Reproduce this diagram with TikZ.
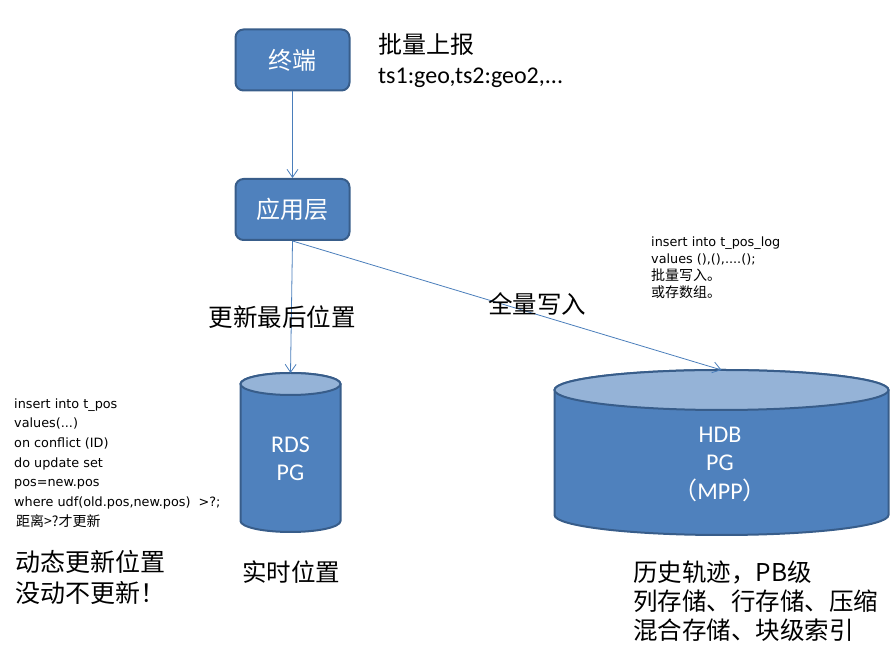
\documentclass[tikz,border=0pt]{standalone}
\usepackage{fontspec}
\setmainfont{Carlito}
\newfontfamily\cjk{Noto Sans CJK SC}
\newfontfamily\codefont{DejaVu Sans}
\usetikzlibrary{arrows.meta,positioning}
\definecolor{boxblue}{RGB}{79,129,189}
\definecolor{boxedge}{RGB}{56,93,138}
\definecolor{drumtop}{RGB}{149,179,215}
\definecolor{linkblue}{RGB}{74,126,187}
% database drum: name of top point, centre x, top y, bottom y, x radius, y radius
\newcommand{\dbdrum}[6]{%
  \filldraw[fill=boxblue, draw=boxedge, line width=2pt] (#2-#5,#3) -- (#2-#5,#4)
    arc[start angle=180, end angle=360, x radius=#5, y radius=#6] -- (#2+#5,#3)
    arc[start angle=0, end angle=180, x radius=#5, y radius=#6] -- cycle;
  \filldraw[fill=drumtop, draw=boxedge, line width=2pt] (#2,#3) ellipse [x radius=#5, y radius=#6];
  \coordinate (#1) at (#2,#3+#6);}

\begin{document}
\begin{tikzpicture}[x=1pt, y=1pt,
    unit/.style={rectangle, rounded corners=8pt, fill=boxblue, draw=boxedge, line width=2pt,
      minimum width=114pt, minimum height=61pt, text=white, font=\cjk\fontsize{24}{28}\selectfont},
    dbtext/.style={align=center, text=white, font=\fontsize{24}{28.5}\selectfont},
    flow/.style={draw=linkblue, line width=0.8pt, -{Straight Barb[length=8pt, width=11pt]}},
    note/.style={anchor=west, align=left, inner sep=0pt}]
  \useasboundingbox (0,0) rectangle (894,652);
  % terminal reports to the application layer
  \node[unit] (term) at (292.5,592) {终端};
  \node[unit] (app) at (292.5,442.5) {应用层};
  \draw[flow] (term) -- (app);
  \node[note, font=\fontsize{24}{30}\selectfont] (batch) at (378,592) {{\cjk 批量上报}\\ts1:geo,ts2:geo2,...};
  % the two databases
  \dbdrum{rdstop}{290.5}{268}{131}{50}{11}
  \dbdrum{hdbtop}{721.5}{262}{137}{167}{20}
  \node[dbtext] (rds) at (290.5,193) {RDS\\PG};
  \node[dbtext] (hdb) at (720,188) {HDB\\PG\\{\cjk （}MPP{\cjk ）}};
  \draw[flow] (app.south) -- (rdstop);
  \draw[flow] (app.south) -- (hdbtop);
  \node[font=\cjk\fontsize{24.5}{28}\selectfont] (latest) at (282,335) {更新最后位置};
  \node[font=\cjk\fontsize{24.5}{28}\selectfont] (full) at (537,348) {全量写入};
  % notes beside the databases
  \node[note, font=\codefont\fontsize{12.8}{19.7}\selectfont] (upsert) at (14,189)
    {insert into t\_pos\\values(...)\\on conflict (ID)\\do update set\\pos=new.pos\\
     where udf(old.pos,new.pos) \ >?;\\\hspace{2pt}{\cjk\fontsize{14}{19.7}\selectfont 距离>?才更新}};
  \node[note, font=\cjk\fontsize{25}{31}\selectfont] (dynamic) at (15,74.5) {动态更新位置\\没动不更新！};
  \node[font=\cjk\fontsize{24.5}{28}\selectfont] (realtime) at (291,80) {实时位置};
  \node[note, font=\codefont\fontsize{12.8}{17}\selectfont] (bulk) at (651,384.5)
    {insert into t\_pos\_log\\values (),(),....();\\{\cjk\fontsize{14}{17}\selectfont 批量写入。}\\{\cjk\fontsize{14}{17}\selectfont 或存数组。}};
  \node[note, font=\cjk\fontsize{24.5}{29}\selectfont] (history) at (633,51)
    {历史轨迹，PB级\\列存储、行存储、压缩\\混合存储、块级索引};
\end{tikzpicture}
\end{document}
